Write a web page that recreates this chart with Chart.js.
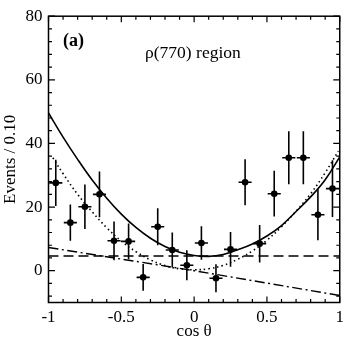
<!DOCTYPE html>
<html><head><meta charset="utf-8">
<script src="https://cdn.jsdelivr.net/npm/chart.js@4.4.0/dist/chart.umd.min.js"></script>
<style>html,body{margin:0;padding:0;background:#fff}#wrap{width:349px;height:346px}</style>
</head><body><div id="wrap"><canvas id="c" width="349" height="346"></canvas></div>
<script>
// ---- data ----
const binCenters = [-0.95,-0.85,-0.75,-0.65,-0.55,-0.45,-0.35,-0.25,-0.15,-0.05,0.05,0.15,0.25,0.35,0.45,0.55,0.65,0.75,0.85,0.95];
const counts     = [27.6,15.1,20.1,24.0,9.4,9.2,-2.1,13.8,6.5,1.7,8.7,-2.4,6.7,27.8,8.5,24.2,35.5,35.5,17.6,25.8];
const errors     = [7.3,5.7,7.0,7.2,6.1,5.6,4.2,5.8,5.5,4.7,5.3,4.4,5.5,7.2,5.9,7.2,8.3,8.3,8.0,8.9];
const binHalfWidth = 0.045;

const totalFitX = [-1.0,-0.9,-0.8,-0.7,-0.6,-0.5,-0.4,-0.3,-0.2,-0.1,0.0,0.1,0.2,0.3,0.4,0.5,0.6,0.7,0.8,0.9,1.0];
const totalFitY = [49.6,42.0,35.0,28.5,22.8,17.8,13.6,10.2,7.6,5.8,4.8,4.5,5.1,6.6,8.4,10.9,14.2,18.6,23.2,28.6,35.8];

const dottedX = [-0.97,-0.9,-0.8,-0.7,-0.6,-0.5,-0.4,-0.3,-0.2,-0.1,0.0,0.1,0.2,0.3,0.4,0.5,0.6,0.7,0.8,0.9,0.99];
const dottedY = [35.5,30.5,24.0,18.5,13.5,9.3,6.0,3.4,1.6,0.6,0.3,0.6,1.7,3.6,6.2,9.6,13.8,18.7,24.2,30.8,37.6];

const dashedX = [-1.0,1.0];
const dashedY = [4.6,4.6];

const dashDotX = [-1.0,0.0,1.0];
const dashDotY = [7.3,0.0,-7.8];

const xMajorTicks = [-1,-0.5,0,0.5,1];
const xTickLabels = ['-1','-0.5','0','0.5','1'];
const xMinorTicks = [-0.9,-0.8,-0.7,-0.6,-0.4,-0.3,-0.2,-0.1,0.1,0.2,0.3,0.4,0.6,0.7,0.8,0.9];
const yMajorTicks = [0,20,40,60,80];
const yTickLabels = ['0','20','40','60','80'];
const yMinorTicks = [-8,-4,4,8,12,16,24,28,32,36,44,48,52,56,64,68,72,76];

const panelLabel = '(a)';
const regionLabel = 'ρ(770) region';
const xTitle = 'cos θ';
const yTitle = 'Events / 0.10';

const zip = (xs, ys) => xs.map((x, i) => ({x: x, y: ys[i]}));
const FONT = 'Liberation Serif';

const errorBars = {
  id: 'errorBars',
  afterDatasetsDraw(chart) {
    const {ctx, scales: {x, y}, chartArea: a} = chart;
    ctx.save();
    ctx.beginPath(); ctx.rect(a.left, a.top, a.right - a.left, a.bottom - a.top); ctx.clip();
    ctx.strokeStyle = '#000'; ctx.lineWidth = 1.6;
    binCenters.forEach((c, i) => {
      const px = x.getPixelForValue(c), py = y.getPixelForValue(counts[i]);
      ctx.beginPath();
      ctx.moveTo(px, y.getPixelForValue(counts[i] - errors[i]));
      ctx.lineTo(px, y.getPixelForValue(counts[i] + errors[i]));
      ctx.moveTo(x.getPixelForValue(c - binHalfWidth), py);
      ctx.lineTo(x.getPixelForValue(c + binHalfWidth), py);
      ctx.stroke();
    });
    ctx.restore();
  }
};

const frame = {
  id: 'frame',
  afterDraw(chart) {
    const {ctx, scales: {x, y}, chartArea: a} = chart;
    ctx.save();
    ctx.strokeStyle = '#000'; ctx.lineWidth = 1.5;
    ctx.strokeRect(a.left, a.top, a.right - a.left, a.bottom - a.top);
    ctx.lineWidth = 1.2;
    const xt = (v, len) => {
      const p = x.getPixelForValue(v);
      ctx.beginPath();
      ctx.moveTo(p, a.bottom); ctx.lineTo(p, a.bottom - len);
      ctx.moveTo(p, a.top); ctx.lineTo(p, a.top + len);
      ctx.stroke();
    };
    const yt = (v, len) => {
      const p = y.getPixelForValue(v);
      ctx.beginPath();
      ctx.moveTo(a.left, p); ctx.lineTo(a.left + len, p);
      ctx.moveTo(a.right, p); ctx.lineTo(a.right - len, p);
      ctx.stroke();
    };
    xMajorTicks.forEach(v => xt(v, 6));
    xMinorTicks.forEach(v => xt(v, 3.5));
    yMajorTicks.forEach(v => yt(v, 6.5));
    yMinorTicks.forEach(v => yt(v, 3.5));
    // annotations
    ctx.fillStyle = '#000';
    ctx.textBaseline = 'middle';
    ctx.textAlign = 'left';
    ctx.font = 'bold 18px "' + FONT + '"';
    ctx.fillText(panelLabel, x.getPixelForValue(-0.9), y.getPixelForValue(72));
    ctx.font = '17.5px "' + FONT + '"';
    ctx.fillText(regionLabel, x.getPixelForValue(-0.337), y.getPixelForValue(68.4));
    ctx.restore();
  }
};

new Chart(document.getElementById('c'), {
  type: 'scatter',
  data: {
    datasets: [
      {data: zip(binCenters, counts), showLine: false, pointRadius: 3.3, pointBackgroundColor: '#000', pointBorderColor: '#000', pointBorderWidth: 0},
      {data: zip(totalFitX, totalFitY), showLine: true, pointRadius: 0, borderColor: '#000', borderWidth: 1.6, tension: 0.4},
      {data: zip(dottedX, dottedY), showLine: true, pointRadius: 0, borderColor: '#000', borderWidth: 1.6, borderDash: [1.5, 3], tension: 0.4},
      {data: zip(dashedX, dashedY), showLine: true, pointRadius: 0, borderColor: '#000', borderWidth: 1.4, borderDash: [10, 5]},
      {data: zip(dashDotX, dashDotY), showLine: true, pointRadius: 0, borderColor: '#000', borderWidth: 1.4, borderDash: [10, 3.5, 2, 3.5]}
    ]
  },
  options: {
    responsive: false,
    animation: false,
    devicePixelRatio: 1,
    layout: {padding: {top: 9, right: 6.3, left: 0, bottom: 0}},
    plugins: {legend: {display: false}, tooltip: {enabled: false}},
    scales: {
      x: {
        type: 'linear', min: -1, max: 1,
        grid: {display: false, drawTicks: false}, border: {display: false},
        afterBuildTicks: s => { s.ticks = xMajorTicks.map(v => ({value: v})); },
        afterFit: s => { s.height = 43.5; },
        ticks: {color: '#000', font: {family: FONT, size: 17}, padding: 5, maxRotation: 0, autoSkip: false,
                callback: (v) => xTickLabels[xMajorTicks.indexOf(v)] ?? String(v)},
        title: {display: true, text: xTitle, color: '#000', font: {family: FONT, size: 17}, padding: {top: 0, bottom: 4}}
      },
      y: {
        type: 'linear', min: -10, max: 80,
        grid: {display: false, drawTicks: false}, border: {display: false},
        afterBuildTicks: s => { s.ticks = yMajorTicks.map(v => ({value: v})); },
        afterFit: s => { s.width = 48.5; },
        ticks: {color: '#000', font: {family: FONT, size: 17}, padding: 6, autoSkip: false,
                callback: (v) => yTickLabels[yMajorTicks.indexOf(v)] ?? String(v)},
        title: {display: true, text: yTitle, color: '#000', font: {family: FONT, size: 17}, padding: {top: 0, bottom: 0}}
      }
    }
  },
  plugins: [errorBars, frame]
});
</script></body></html>
